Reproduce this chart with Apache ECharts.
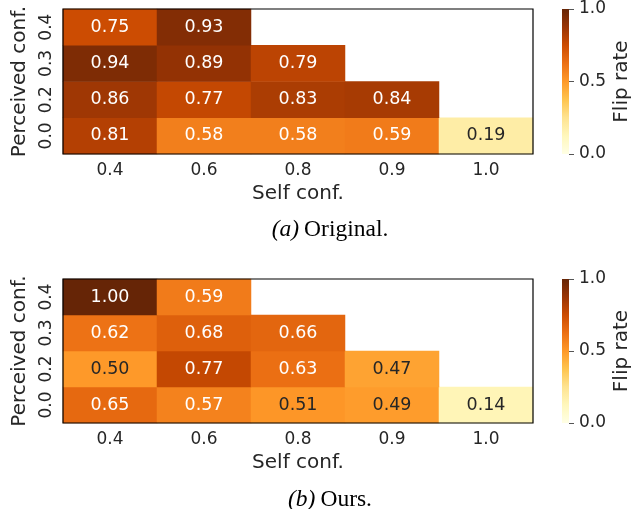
<!DOCTYPE html>
<html>
<head>
<meta charset="utf-8">
<script src="https://cdn.jsdelivr.net/npm/echarts@6/dist/echarts.min.js"></script>
<style>html,body{margin:0;padding:0;background:#fff;}#c{width:642px;height:509px;}</style>
</head>
<body>
<div id="c"></div>
<script>
const selfConf = ['0.4', '0.6', '0.8', '0.9', '1.0'];
const perceivedConf = ['0.0', '0.2', '0.3', '0.4'];
// rows follow perceivedConf (bottom to top); null = no cell
const originalRows = [
  [0.81, 0.58, 0.58, 0.59, 0.19],
  [0.86, 0.77, 0.83, 0.84, null],
  [0.94, 0.89, 0.79, null, null],
  [0.75, 0.93, null, null, null]
];
const oursRows = [
  [0.65, 0.57, 0.51, 0.49, 0.14],
  [0.50, 0.77, 0.63, 0.47, null],
  [0.62, 0.68, 0.66, null, null],
  [1.00, 0.59, null, null, null]
];
const captions = [['(a)', 'Original.'], ['(b)', 'Ours.']];
const colorbarTicks = [0.0, 0.5, 1.0];
const ylorbr = ['#ffffe5', '#fff7bc', '#fee391', '#fec44f', '#fe9929', '#ec7014', '#cc4c02', '#993404', '#662506'];

const FONT = 'DejaVu Sans';
const DARK = '#262626';

function cells(rows) {
  const out = [];
  rows.forEach((row, yi) => row.forEach((v, xi) => {
    if (v === null) return;
    out.push({ value: [xi, yi, v], label: { color: v > 0.55 ? '#ffffff' : DARK } });
  }));
  return out;
}

const panels = [
  { top: 9, height: 145, capTop: 213 },
  { top: 279, height: 144, capTop: 483 }
];

const grid = [], xAxis = [], yAxis = [], series = [], visualMap = [], title = [];
const datasets = [originalRows, oursRows];

panels.forEach((p, i) => {
  grid.push({ left: 63, top: p.top, width: 470, height: p.height, show: true, borderColor: '#000', borderWidth: 1.2, backgroundColor: 'transparent', z: 10 });
  grid.push({ left: 562, top: p.top, width: 7, height: p.height });
  const hg = 2 * i, cg = 2 * i + 1;
  xAxis.push({
    type: 'category', gridIndex: hg, data: selfConf,
    axisLine: { show: false },
    axisTick: { alignWithLabel: true, length: 5, lineStyle: { color: '#000' } },
    axisLabel: { fontFamily: FONT, fontSize: 17, color: DARK, margin: 8 },
    splitLine: { show: false },
    name: 'Self conf.', nameLocation: 'middle', nameGap: 30,
    nameTextStyle: { fontFamily: FONT, fontSize: 20, color: DARK }
  });
  yAxis.push({
    type: 'category', gridIndex: hg, data: perceivedConf,
    axisLine: { show: false },
    axisTick: { alignWithLabel: true, length: 5, lineStyle: { color: '#000' } },
    axisLabel: { fontFamily: FONT, fontSize: 17, color: DARK, rotate: 90, margin: 8 },
    splitLine: { show: false },
    name: 'Perceived conf.', nameLocation: 'middle', nameGap: 30,
    nameTextStyle: { fontFamily: FONT, fontSize: 20, color: DARK }
  });
  xAxis.push({ type: 'category', gridIndex: cg, data: [''], show: false });
  yAxis.push({
    type: 'value', gridIndex: cg, min: 0, max: 1, interval: 0.5, position: 'right',
    axisLine: { show: false },
    axisTick: { show: true, length: 5, lineStyle: { color: '#555' } },
    axisLabel: { fontFamily: FONT, fontSize: 17, color: DARK, margin: 10, formatter: v => v.toFixed(1) },
    splitLine: { show: false },
    name: 'Flip rate', nameLocation: 'middle', nameGap: 43,
    nameTextStyle: { fontFamily: FONT, fontSize: 20, color: DARK }
  });
  series.push({
    type: 'heatmap', xAxisIndex: hg, yAxisIndex: hg, data: cells(datasets[i]),
    label: { show: true, fontFamily: FONT, fontSize: 17.5, formatter: d => d.value[2].toFixed(2) },
    itemStyle: { borderWidth: 0 },
    emphasis: { disabled: true }
  });
  visualMap.push({ show: false, type: 'continuous', min: 0, max: 1, seriesIndex: i, dimension: 2, inRange: { color: ylorbr } });
  title.push({
    text: '{i|' + captions[i][0] + '} {n|' + captions[i][1] + '}',
    left: 325, top: p.capTop, textAlign: 'center',
    textStyle: { fontWeight: 'normal', rich: {
      i: { fontFamily: 'Liberation Serif', fontStyle: 'italic', fontWeight: 'normal', fontSize: 23.5, color: '#000' },
      n: { fontFamily: 'Liberation Serif', fontWeight: 'normal', fontSize: 23.5, color: '#000' }
    } }
  });
});

// colorbar bars
const stops = ylorbr.map((c, k) => ({ offset: k / (ylorbr.length - 1), color: c }));
panels.forEach((p, i) => {
  series.push({
    type: 'bar', xAxisIndex: 2 * i + 1, yAxisIndex: 2 * i + 1, data: [colorbarTicks[colorbarTicks.length - 1]],
    barWidth: '100%', silent: true,
    itemStyle: { color: new echarts.graphic.LinearGradient(0, 1, 0, 0, stops) }
  });
});

const chart = echarts.init(document.getElementById('c'), null, { renderer: 'canvas' });
chart.setOption({ animation: false, backgroundColor: '#fff', title, grid, xAxis, yAxis, visualMap, series });
</script>
</body>
</html>
